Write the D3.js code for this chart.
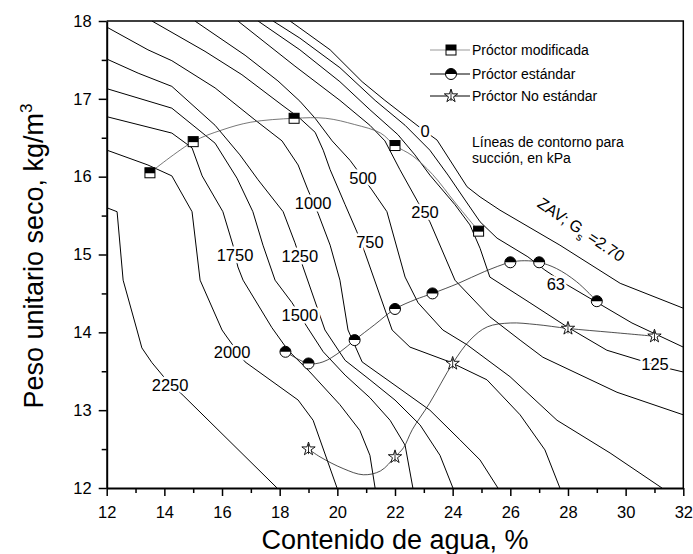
<!DOCTYPE html>
<html>
<head>
<meta charset="utf-8">
<script src="https://cdn.jsdelivr.net/npm/d3@7"></script>
<style>
  body { margin: 0; background: #fff; }
  svg { font-family: "Liberation Sans", Arial, sans-serif; }
</style>
</head>
<body>
<svg id="chart" width="693" height="554"></svg>
<script>
// suction contours, points are [water content %, dry unit weight kN/m3]
const c0 = [[18.36,18.00],[18.70,17.91],[19.75,17.63],[20.86,17.22],[21.65,16.98],[22.87,16.63],[23.46,16.47],[24.50,15.87],[24.95,15.74],[25.64,15.57],[27.72,15.12],[29.81,14.63],[32.00,14.31]];
const c63 = [[17.77,18.00],[18.70,17.78],[20.09,17.40],[21.31,16.98],[22.35,16.66],[23.21,16.34],[23.84,16.02],[24.43,15.70],[24.95,15.42],[25.54,15.21],[26.61,14.97],[27.20,14.80],[27.97,14.61],[30.22,14.12],[32.00,13.81]];
const c125 = [[17.25,18.00],[18.70,17.63],[20.09,17.22],[21.13,16.86],[22.10,16.54],[22.69,16.28],[23.21,16.02],[24.08,15.64],[24.60,15.38],[24.95,15.08],[25.29,14.71],[26.68,14.38],[27.97,14.07],[29.35,13.77],[30.50,13.64],[31.44,13.54],[32.00,13.49]];
const c250 = [[16.55,18.00],[18.53,17.42],[20.09,16.98],[21.13,16.66],[21.65,16.46],[22.17,16.09],[22.80,15.67],[23.21,15.42],[24.08,14.67],[25.29,14.20],[26.34,13.90],[27.13,13.68],[29.70,13.23],[32.00,12.94]];
const c500 = [[15.06,18.00],[16.80,17.56],[17.94,17.23],[18.70,16.97],[19.23,16.75],[19.82,16.46],[20.44,16.21],[21.20,15.83],[21.72,15.55],[22.35,14.71],[22.80,14.38],[23.66,14.03],[24.50,13.84],[25.99,13.43],[27.62,12.87],[29.46,12.45],[31.26,12.00]];
const c750 = [[13.57,18.00],[15.41,17.61],[16.69,17.31],[18.08,16.92],[18.70,16.75],[19.23,16.57],[19.51,16.34],[19.75,16.09],[20.27,15.64],[20.68,15.29],[20.96,15.02],[21.90,14.03],[22.52,13.81],[23.90,13.62],[25.19,13.39],[26.34,12.94],[27.20,12.49],[27.72,12.00]];
const c1000 = [[12.01,17.92],[13.43,17.63],[14.26,17.49],[15.76,17.14],[17.14,16.73],[18.08,16.46],[18.64,16.15],[18.98,15.83],[19.33,15.53],[19.75,15.12],[20.09,14.67],[20.37,14.03],[20.86,13.62],[22.00,13.32],[23.21,13.00],[24.25,12.62],[24.95,12.36],[25.57,12.00]];
const c1250 = [[12.01,17.51],[13.09,17.33],[14.26,17.16],[15.76,16.66],[16.62,16.28],[17.25,15.96],[18.12,15.55],[18.53,15.15],[18.81,14.84],[19.57,14.03],[20.27,13.64],[21.13,13.39],[22.00,13.13],[22.87,12.81],[23.56,12.42],[24.01,12.00]];
const c1500 = [[12.01,17.13],[14.26,16.88],[15.76,16.43],[16.52,15.98],[17.07,15.55],[17.42,15.12],[17.84,14.67],[18.43,14.38],[18.95,14.07],[19.51,13.75],[20.27,13.45],[21.13,13.16],[21.83,12.87],[22.35,12.55],[22.62,12.00]];
const c1750 = [[12.01,16.77],[14.26,16.56],[14.96,16.37],[15.31,16.01],[16.03,15.55],[16.38,15.12],[16.55,14.84],[16.73,14.67],[17.73,14.06],[18.29,13.77],[19.05,13.49],[20.09,13.07],[20.78,12.74],[21.13,12.42],[21.31,12.00]];
const c2000 = [[12.01,16.34],[13.43,16.15],[14.26,16.01],[14.96,15.55],[15.24,14.67],[16.00,14.03],[16.17,13.94],[16.80,13.62],[18.64,13.13],[19.16,12.87],[19.99,12.00]];
const c2250 = [[12.01,15.60],[12.36,15.55],[12.57,14.67],[13.05,14.03],[13.22,13.80],[13.57,13.61],[14.02,13.41],[14.65,13.19],[17.91,12.00]];

// label text and where it sits on its contour
const contourLabels = [
  ["0", 23.04, 16.59], ["63", 27.58, 14.62], ["125", 31.02, 13.59], ["250", 23.04, 15.55],
  ["500", 20.89, 15.98], ["750", 21.13, 15.16], ["1000", 19.16, 15.66], ["1250", 18.70, 14.98],
  ["1500", 18.70, 14.22], ["1750", 16.45, 14.99], ["2000", 16.35, 13.75], ["2250", 14.20, 13.32]
];

// compaction tests
const modPts = [[13.5,16.05],[15,16.45],[18.5,16.75],[22,16.4],[24.9,15.3]];
const stdPts = [[18.2,13.75],[19,13.6],[20.6,13.9],[22,14.3],[23.3,14.5],[26,14.9],[27,14.9],[29,14.4]];
const noStdPts = [[19,12.5],[22,12.4],[24,13.6],[28,14.05],[31,13.95]];

// fitted curves
const modFit = [[13.5,16.05],[15,16.45],[16,16.6],[17,16.7],[18.5,16.75],[19.6,16.75],[20.6,16.67],[21.5,16.56],[22,16.4],[22.6,16.27],[23.3,16.03],[24.1,15.66],[24.9,15.3]];
const stdFit = [[18.2,13.75],[19,13.6],[19.5,13.62],[20.1,13.75],[20.6,13.9],[21.3,14.1],[22,14.3],[22.7,14.42],[23.3,14.5],[24.2,14.63],[25.1,14.78],[26,14.9],[26.5,14.92],[27,14.9],[27.6,14.82],[28.3,14.65],[29,14.4]];
const noStdFit = [[19,12.5],[19.4,12.4],[20.2,12.25],[20.9,12.17],[21.5,12.22],[22,12.4],[22.3,12.52],[22.6,12.75],[23.2,13.09],[24,13.6],[24.6,13.9],[25.2,14.07],[26,14.12],[26.9,14.1],[28,14.05],[29.5,14.0],[31,13.95]];

const xTicks = d3.range(12, 33, 2);
const xMinor = d3.range(13, 32, 2);
const yTicks = d3.range(12, 19, 1);
const yMinor = d3.range(12.5, 18, 1);
const legendLabels = ["Próctor modificada", "Próctor estándar", "Próctor No estándar"];

const svg = d3.select("#chart");
const M = { left: 106.7, right: 683.3, top: 21, bottom: 488 };

const x = d3.scaleLinear().domain([12, 32]).range([M.left, M.right]);
const y = d3.scaleLinear().domain([12, 18]).range([M.bottom, M.top]);

svg.append("defs").append("clipPath").attr("id", "clip")
  .append("rect")
  .attr("x", M.left).attr("y", M.top)
  .attr("width", M.right - M.left).attr("height", M.bottom - M.top);

const line = d3.line().x(d => x(d[0])).y(d => y(d[1]));
const smooth = d3.line().x(d => x(d[0])).y(d => y(d[1])).curve(d3.curveCatmullRom.alpha(0.5));

const plotG = svg.append("g").attr("clip-path", "url(#clip)");

// contours
const contours = [c0, c63, c125, c250, c500, c750, c1000, c1250, c1500, c1750, c2000, c2250];
plotG.selectAll(".contour")
  .data(contours)
  .join("path")
  .attr("class", "contour")
  .attr("d", line)
  .attr("fill", "none")
  .attr("stroke", "#000")
  .attr("stroke-width", 1);

// compaction curves
plotG.append("path").attr("d", smooth(modFit))
  .attr("fill", "none").attr("stroke", "#555").attr("stroke-width", 0.8);
plotG.append("path").attr("d", smooth(stdFit))
  .attr("fill", "none").attr("stroke", "#222").attr("stroke-width", 0.8);
plotG.append("path").attr("d", smooth(noStdFit))
  .attr("fill", "none").attr("stroke", "#222").attr("stroke-width", 0.8);

// contour labels with white halo to cut the line
svg.append("g").selectAll("text")
  .data(contourLabels)
  .join("text")
  .attr("x", d => x(d[1]))
  .attr("y", d => y(d[2]))
  .attr("dy", "0.36em")
  .attr("text-anchor", "middle")
  .attr("font-size", 16.5)
  .attr("stroke", "#fff")
  .attr("stroke-width", 5)
  .attr("paint-order", "stroke")
  .attr("fill", "#000")
  .text(d => d[0]);

// ZAV label along the saturation line
const zav = svg.append("text")
  .attr("transform", `translate(${x(28.35)},${y(15.26)}) rotate(34)`)
  .attr("text-anchor", "middle")
  .attr("font-size", 16)
  .attr("fill", "#000");
zav.append("tspan").text("ZAV; G");
zav.append("tspan").attr("font-size", 11).attr("dy", 5).text("s");
zav.append("tspan").attr("dy", -5).text(" =2.70");

// markers
function halfSquare(g, cx, cy) {
  g.append("rect").attr("x", cx - 5).attr("y", cy - 5).attr("width", 10).attr("height", 10)
    .attr("fill", "#fff").attr("stroke", "#000").attr("stroke-width", 1);
  g.append("rect").attr("x", cx - 5).attr("y", cy - 5).attr("width", 10).attr("height", 5.5)
    .attr("fill", "#000");
}
function halfCircle(g, cx, cy) {
  const r = 5.5;
  g.append("circle").attr("cx", cx).attr("cy", cy).attr("r", r)
    .attr("fill", "#fff").attr("stroke", "#000").attr("stroke-width", 1);
  g.append("path").attr("d", `M${cx - r},${cy}A${r},${r} 0 0 1 ${cx + r},${cy}Z`).attr("fill", "#000");
}
const starPath = d3.symbol(d3.symbolStar, 55)();
function star(g, cx, cy) {
  g.append("path").attr("d", starPath).attr("transform", `translate(${cx},${cy})`)
    .attr("fill", "#fff").attr("stroke", "#000").attr("stroke-width", 0.9);
  g.append("line").attr("x1", cx).attr("x2", cx).attr("y1", cy - 5).attr("y2", cy + 5)
    .attr("stroke", "#000").attr("stroke-width", 0.8);
}

const markG = svg.append("g");
modPts.forEach(d => halfSquare(markG, x(d[0]), y(d[1])));
stdPts.forEach(d => halfCircle(markG, x(d[0]), y(d[1])));
noStdPts.forEach(d => star(markG, x(d[0]), y(d[1])));

// axes
svg.append("g").attr("transform", `translate(0,${M.bottom})`)
  .call(d3.axisBottom(x).tickValues(xTicks).tickFormat(d3.format("d"))
    .tickSize(8).tickSizeOuter(0).tickPadding(10));
svg.append("g").attr("transform", `translate(0,${M.bottom})`)
  .call(d3.axisBottom(x).tickValues(xMinor).tickSize(5).tickSizeOuter(0).tickFormat(""))
  .select(".domain").remove();
svg.append("g").attr("transform", `translate(${M.left},0)`)
  .call(d3.axisLeft(y).tickValues(yTicks).tickFormat(d3.format("d"))
    .tickSize(8).tickSizeOuter(0).tickPadding(7));
svg.append("g").attr("transform", `translate(${M.left},0)`)
  .call(d3.axisLeft(y).tickValues(yMinor).tickSize(5).tickSizeOuter(0).tickFormat(""))
  .select(".domain").remove();

svg.selectAll(".tick line").attr("stroke", "#000").attr("stroke-width", 1.5);
svg.selectAll(".domain").attr("stroke", "#000").attr("stroke-width", 2);
svg.selectAll(".tick text")
  .attr("font-family", "Liberation Sans, Arial, sans-serif")
  .attr("font-size", 16.5).attr("fill", "#000");

// top and right frame
svg.append("path")
  .attr("d", `M${M.left},${M.top}H${M.right}V${M.bottom}`)
  .attr("fill", "none").attr("stroke", "#000").attr("stroke-width", 1.5);

// legend
const legRows = [50, 74, 96];
const leg = svg.append("g");
legendLabels.forEach((t, i) => {
  const ly = legRows[i];
  leg.append("line").attr("x1", 430).attr("x2", 470).attr("y1", ly).attr("y2", ly)
    .attr("stroke", i === 0 ? "#999" : "#000").attr("stroke-width", 1);
  if (i === 0) halfSquare(leg, 451, ly);
  else if (i === 1) halfCircle(leg, 451, ly);
  else star(leg, 451, ly);
  leg.append("text").attr("x", 472).attr("y", ly).attr("dy", "0.36em")
    .attr("font-size", 14).text(t);
});

svg.append("text").attr("x", 472).attr("y", 147).attr("font-size", 14)
  .text("Líneas de contorno para");
svg.append("text").attr("x", 472).attr("y", 163).attr("font-size", 14)
  .text("succión, en kPa");

// axis titles
svg.append("text")
  .attr("x", 395).attr("y", 549)
  .attr("text-anchor", "middle").attr("font-size", 27)
  .text("Contenido de agua, %");

const yt = svg.append("text")
  .attr("transform", `translate(43,256) rotate(-90)`)
  .attr("text-anchor", "middle").attr("font-size", 27);
yt.append("tspan").text("Peso unitario seco, kg/m");
yt.append("tspan").attr("font-size", 17).attr("dy", -11).text("3");
</script>
</body>
</html>
